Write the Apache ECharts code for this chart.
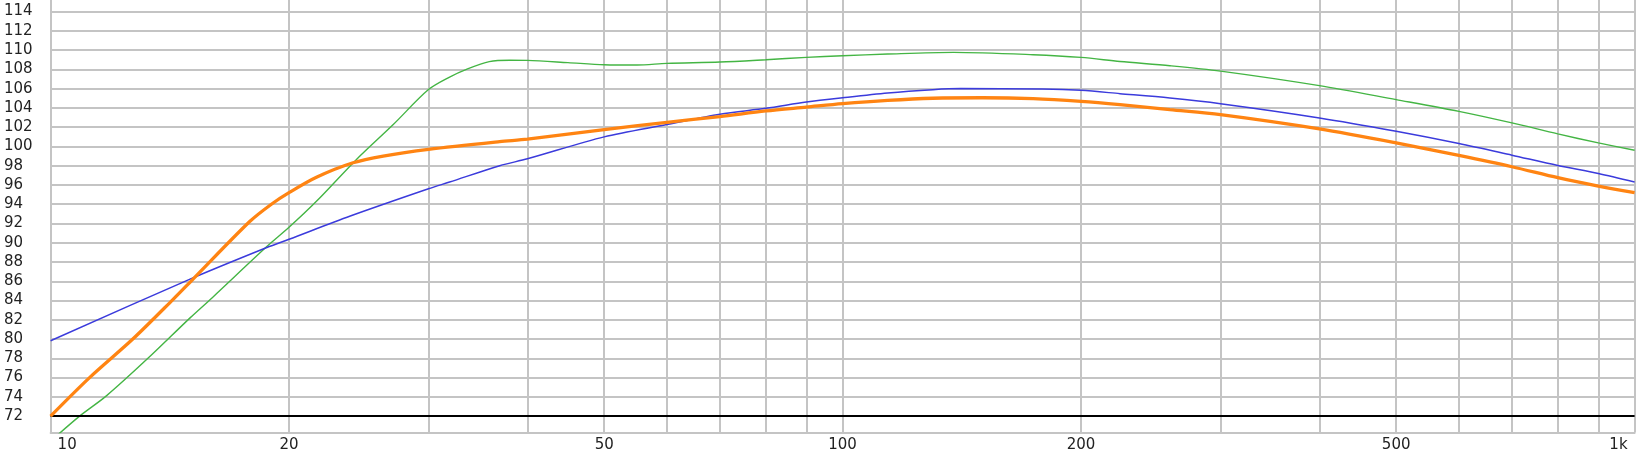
<!DOCTYPE html>
<html><head><meta charset="utf-8">
<script src="https://cdn.jsdelivr.net/npm/echarts@6/dist/echarts.min.js"></script>
<style>html,body{margin:0;padding:0;background:#fff}#c{width:1638px;height:453px}</style>
</head><body><div id="c"></div>
<script>
// Tick / label definitions
const xTickValues = [10,20,30,40,50,60,70,80,90,100,200,300,400,500,600,700,800,900,1000];
const xLabelValues = [10,20,50,100,200,500,1000];
const xLabelText = ['10','20','50','100','200','500','1k'];
const yTickValues = [72,74,76,78,80,82,84,86,88,90,92,94,96,98,100,102,104,106,108,110,112,114];
const refLevel = 72;

// Orange curve
const freqOrange = [10,11.2,12.7,14.27,15.12,17.84,19,20,21.66,24.09,26.3,30,36.9,40,50,60,70,80,90,100,114,130,150,174,200,224,259,300,400,500,600,700,800,900,1000];
const splOrange  = [72.0,76.0,80.0,84.1,86.2,92.2,94.0,95.2,96.8,98.3,99.0,99.7,100.5,100.75,101.75,102.5,103.1,103.68,104.08,104.44,104.78,105.0,105.05,104.96,104.68,104.34,103.82,103.3,101.82,100.37,99.06,97.89,96.75,95.88,95.2];

// Blue curve
const freqBlue = [10,15,18.75,20,23.9,30,31.9,36.9,40,50,60,70,80,90,100,114,130,141,179,200,224,259,300,400,500,600,700,800,900,1000];
const splBlue  = [79.83,86.22,89.5,90.36,92.77,95.6,96.3,98.0,98.71,100.99,102.27,103.35,103.95,104.6,105.05,105.55,105.89,106.0,105.96,105.82,105.48,105.03,104.44,102.96,101.57,100.3,99.09,98.02,97.19,96.3];

// Green curve
const freqGreen = [10,10.88,11.76,13.27,15,16,18.75,20,21.66,24.3,27.1,30,31.9,33.5,35.8,38,40,45,50,55,60,70,80,90,100,114,138,174,200,224,259,300,400,500,600,700,800,900,1000];
const splGreen  = [69.4,72.0,74.1,78.0,82.2,84.3,89.6,91.6,94.3,98.6,102.3,105.9,107.2,108.0,108.8,108.95,108.93,108.7,108.48,108.45,108.62,108.76,109.0,109.24,109.41,109.59,109.76,109.52,109.24,108.82,108.38,107.82,106.31,104.86,103.64,102.44,101.3,100.37,99.6];

const zip = (f, v) => f.map((x, i) => [x, v[i]]);
const gridColor = '#c4c4c4';
const labelFont = { fontFamily: 'DejaVu Sans', fontSize: 15, color: '#222222' };

const chart = echarts.init(document.getElementById('c'), null, { renderer: 'canvas' });
chart.setOption({
  animation: false,
  backgroundColor: '#ffffff',
  grid: { left: 50.6, right: 3.4, top: 0, bottom: 19.5, containLabel: false },
  xAxis: {
    type: 'log', logBase: 10, min: 10, max: 1000,
    axisLine: { show: true, lineStyle: { color: gridColor, width: 2 } },
    axisTick: { show: false, customValues: xTickValues },
    splitLine: { show: true, lineStyle: { color: gridColor, width: 2 } },
    axisLabel: {
      customValues: xLabelValues,
      margin: 13, verticalAlign: 'middle',
      alignMinLabel: 'left', alignMaxLabel: 'right',
      ...labelFont,
      formatter: function (v) {
        let idx = 0, best = Infinity;
        xLabelValues.forEach((lv, i) => { const d = Math.abs(Math.log10(lv) - Math.log10(v)); if (d < best) { best = d; idx = i; } });
        const t = xLabelText[idx];
        if (idx === 0) return '{l|' + t + '}';
        if (idx === xLabelValues.length - 1) return '{r|' + t + '}';
        return t;
      },
      rich: {
        l: { ...labelFont, padding: [0, 0, 0, 7] },
        r: { ...labelFont, padding: [0, 7, 0, 0] }
      }
    }
  },
  yAxis: {
    type: 'value', min: 70.3, max: 115.2,
    axisLine: { show: true, lineStyle: { color: gridColor, width: 2 } },
    axisTick: { show: false, customValues: yTickValues },
    splitLine: { show: true, lineStyle: { color: gridColor, width: 2 } },
    axisLabel: {
      customValues: yTickValues,
      align: 'left', margin: 46.6,
      ...labelFont
    }
  },
  series: [
    {
      type: 'line', name: 'green', data: zip(freqGreen, splGreen),
      showSymbol: false, smooth: 0.3, clip: true,
      lineStyle: { color: '#44b544', width: 1.4 }, z: 3
    },
    {
      type: 'line', name: 'blue', data: zip(freqBlue, splBlue),
      showSymbol: false, smooth: 0.3, clip: true,
      lineStyle: { color: '#3b3bdc', width: 1.5 }, z: 4,
      markLine: {
        silent: true, symbol: ['none', 'none'], label: { show: false },
        lineStyle: { color: '#000000', width: 2, type: 'solid' },
        data: [{ yAxis: refLevel }]
      }
    },
    {
      type: 'line', name: 'orange', data: zip(freqOrange, splOrange),
      showSymbol: false, smooth: 0.3, clip: true,
      lineStyle: { color: '#ff8412', width: 3.3 }, z: 5
    }
  ]
});
</script>
</body></html>
